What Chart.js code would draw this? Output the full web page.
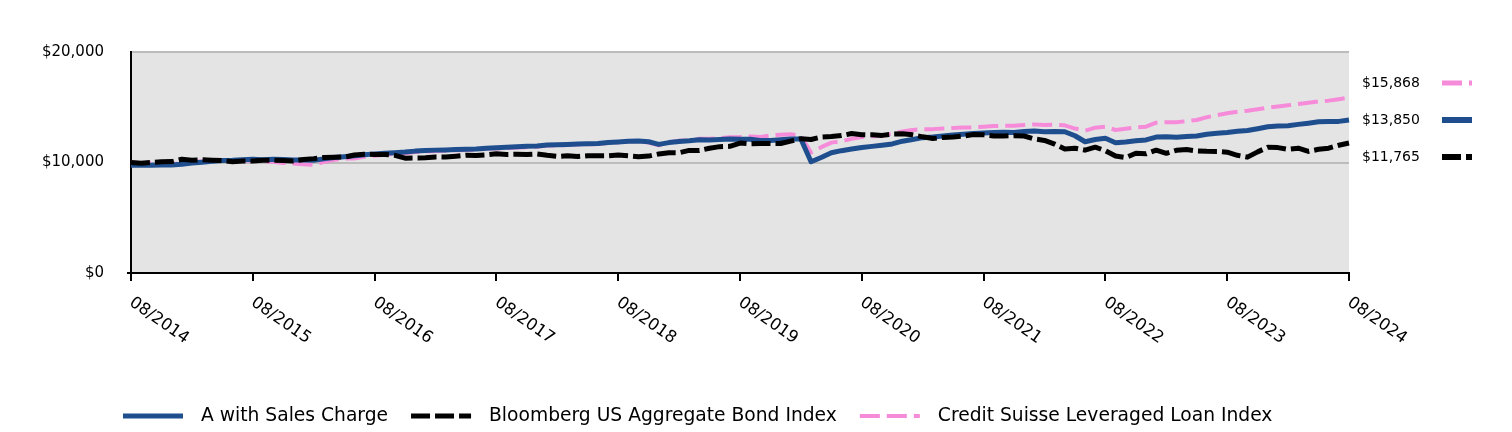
<!DOCTYPE html>
<html><head><meta charset="utf-8">
<script src="https://cdn.jsdelivr.net/npm/chart.js@4.4.1/dist/chart.umd.min.js"></script>
<style>html,body{margin:0;padding:0;background:#fff}#wrap{width:1512px;height:432px;position:relative}</style>
</head><body><div id="wrap"><canvas id="c"></canvas></div>
<script>
// ---- data ----
const seriesNames = ['A with Sales Charge', 'Bloomberg US Aggregate Bond Index', 'Credit Suisse Leveraged Loan Index'];
const tickLabels = ['08/2014','08/2015','08/2016','08/2017','08/2018','08/2019','08/2020','08/2021','08/2022','08/2023','08/2024'];
const yTicks = [0, 10000, 20000];

const fundA = [
  9750, 9760, 9750, 9770, 9780, 9850, 9950,10030,10120,10180,10200,10250,
 10290,10260,10300,10280,10230,10220,10200,10330,10450,10520,10600,10700,
 10780,10830,10890,10940,11030,11080,11120,11140,11180,11210,11230,11300,
 11340,11380,11430,11460,11500,11580,11600,11640,11680,11700,11720,11800,
 11860,11920,11940,11880,11640,11800,11900,11960,12060,12040,12080,12120,
 12110,12100,12000,12000,12060,12120,12130,10070,10450,10880,11070,11220,
 11360,11460,11560,11680,11930,12080,12250,12310,12400,12480,12550,12620,
 12660,12710,12730,12720,12800,12850,12790,12800,12780,12420,11880,12080,
 12190,11790,11850,11960,12040,12300,12340,12280,12350,12400,12550,12650,
 12720,12820,12900,13060,13240,13300,13320,13450,13560,13680,13700,13720,
 13850];
const bloombergAgg = [
 10000, 9932,10003,10074,10083,10294,10197,10245,10208,10183,10072,10142,
 10127,10196,10197,10170,10137,10277,10350,10445,10485,10488,10676,10744,
 10732,10726,10644,10392,10407,10427,10497,10491,10572,10653,10643,10689,
 10785,10734,10740,10726,10775,10651,10550,10617,10538,10613,10600,10602,
 10670,10602,10518,10581,10776,10890,10884,11093,11096,11293,11435,11460,
 11757,11694,11729,11723,11715,11940,12155,12084,12299,12356,12434,12619,
 12517,12510,12454,12576,12594,12504,12323,12169,12265,12305,12391,12530,
 12506,12398,12395,12431,12400,12133,11997,11664,11221,11294,11116,11388,
 11066,10588,10450,10834,10785,11117,10829,11104,11172,11050,11010,11003,
 10932,10654,10486,10961,11380,11349,11188,11291,11006,11193,11299,11563,
 11765];
const csLevLoan = [
 10000, 9950, 9970, 9960, 9880, 9900,10080,10110,10200,10230,10180,10210,
 10160,10090,10060, 9960, 9900, 9830, 9780,10050,10250,10360,10370,10530,
 10620,10700,10790,10830,10940,10990,11050,11060,11110,11130,11140,11260,
 11260,11300,11360,11380,11420,11530,11550,11580,11640,11650,11680,11770,
 11840,11920,11920,11810,11550,11820,11980,11970,12150,12140,12190,12280,
 12300,12360,12310,12440,12520,12560,12420,10900,11390,11800,11920,12140,
 12300,12380,12400,12650,12800,12950,13010,13020,13080,13120,13170,13180,
 13230,13300,13330,13320,13400,13450,13400,13410,13360,13070,12880,13150,
 13240,12940,13050,13180,13240,13600,13640,13650,13740,13850,14100,14280,
 14450,14590,14690,14820,14960,15060,15180,15300,15410,15530,15600,15730,
 15868];

// monthly categories 08/2014 .. 08/2024
const categories = [];
for (let i = 0; i <= 120; i++) {
  const m = (7 + i) % 12 + 1, y = 2014 + Math.floor((7 + i) / 12);
  categories.push(String(m).padStart(2, '0') + '/' + y);
}

const FONT = "'DejaVu Sans', sans-serif";
const fmt = v => '$' + v.toLocaleString('en-US');

const bgPlugin = {
  id: 'bg',
  beforeDraw(chart) {
    const {ctx, chartArea: a} = chart;
    ctx.save(); ctx.fillStyle = '#e4e4e4';
    ctx.fillRect(a.left, a.top, a.right - a.left, a.bottom - a.top);
    ctx.restore();
  }
};

const decoPlugin = {
  id: 'deco',
  afterDraw(chart) {
    const {ctx} = chart;
    const xs = chart.scales.x;
    // rotated x labels
    ctx.save();
    ctx.fillStyle = '#000'; ctx.font = '16.5px ' + FONT;
    ctx.textAlign = 'left'; ctx.textBaseline = 'middle';
    tickLabels.forEach(lab => {
      const idx = categories.indexOf(lab);
      const x = xs.getPixelForValue(idx);
      ctx.save();
      ctx.translate(x, 301);
      ctx.rotate(35 * Math.PI / 180);
      ctx.fillText(lab, 0, 0);
      ctx.restore();
    });
    ctx.restore();

    // right-side end-value labels
    const ds = chart.data.datasets.map(d => ({d, last: d.data[d.data.length - 1]}));
    ds.sort((a, b) => b.last - a.last);
    ctx.save();
    ds.forEach((o, k) => {
      const y = 83 + k * 37;
      ctx.fillStyle = '#000'; ctx.font = '14px ' + FONT;
      ctx.textAlign = 'left'; ctx.textBaseline = 'middle';
      ctx.fillText(fmt(o.last), 1362, y);
      ctx.beginPath();
      ctx.strokeStyle = o.d.borderColor; ctx.lineWidth = o.d.borderWidth + 1;
      ctx.setLineDash(o.d.borderDash || []); ctx.lineCap = 'butt';
      ctx.moveTo(1442, y); ctx.lineTo(1472, y); ctx.stroke();
    });
    ctx.restore();

    // legend
    ctx.save();
    ctx.font = '18.7px ' + FONT; ctx.textBaseline = 'middle'; ctx.textAlign = 'left';
    let x = 123; const y = 416;
    chart.data.datasets.forEach(d => {
      ctx.beginPath();
      ctx.strokeStyle = d.borderColor; ctx.lineWidth = d.borderWidth;
      ctx.setLineDash(d.borderDash || []); ctx.lineCap = 'butt';
      ctx.moveTo(x, y); ctx.lineTo(x + 60, y); ctx.stroke();
      ctx.setLineDash([]);
      x += 78;
      ctx.fillStyle = '#000';
      ctx.fillText(d.label, x, y);
      x += ctx.measureText(d.label).width + 23;
    });
    ctx.restore();
  }
};

new Chart(document.getElementById('c'), {
  type: 'line',
  data: {
    labels: categories,
    datasets: [
      {label: seriesNames[0], data: fundA, borderColor: '#1f4e8f', borderWidth: 5, order: 1},
      {label: seriesNames[1], data: bloombergAgg, borderColor: '#000000', borderWidth: 5, borderDash: [19, 5], order: 0},
      {label: seriesNames[2], data: csLevLoan, borderColor: '#f68bd9', borderWidth: 4, borderDash: [20, 7], order: 2}
    ]
  },
  options: {
    responsive: true, maintainAspectRatio: false, animation: false,
    devicePixelRatio: 1,
    layout: {padding: {left: 0, right: 163, top: 52, bottom: 0}},
    elements: {point: {radius: 0, hoverRadius: 0}, line: {tension: 0, borderCapStyle: 'butt', borderJoinStyle: 'round'}},
    plugins: {legend: {display: false}, tooltip: {enabled: false}},
    scales: {
      x: {
        afterFit(s) { s.height = 432 - 273; },
        grid: {drawOnChartArea: false, tickLength: 8, lineWidth: 2,
               color: c => (tickLabels.includes(categories[c.index]) ? '#000' : 'rgba(0,0,0,0)')},
        border: {display: true, color: '#000', width: 2},
        ticks: {display: false, autoSkip: false, maxRotation: 0}
      },
      y: {
        min: 0, max: 20000,
        afterFit(s) { s.width = 131; },
        afterBuildTicks(s) { s.ticks = yTicks.map(v => ({value: v})); },
        grid: {lineWidth: 2, tickLength: 4,
               color: c => (c.tick && c.tick.value === 0 ? 'rgba(0,0,0,0)' : '#bcbcbc'),
               tickColor: c => (c.tick && c.tick.value === 0 ? '#000' : 'rgba(0,0,0,0)')},
        border: {display: true, color: '#000', width: 2},
        ticks: {color: '#000', font: {family: FONT, size: 15}, padding: 23, callback: v => fmt(v)}
      }
    }
  },
  plugins: [bgPlugin, decoPlugin]
});
</script>
</body></html>
